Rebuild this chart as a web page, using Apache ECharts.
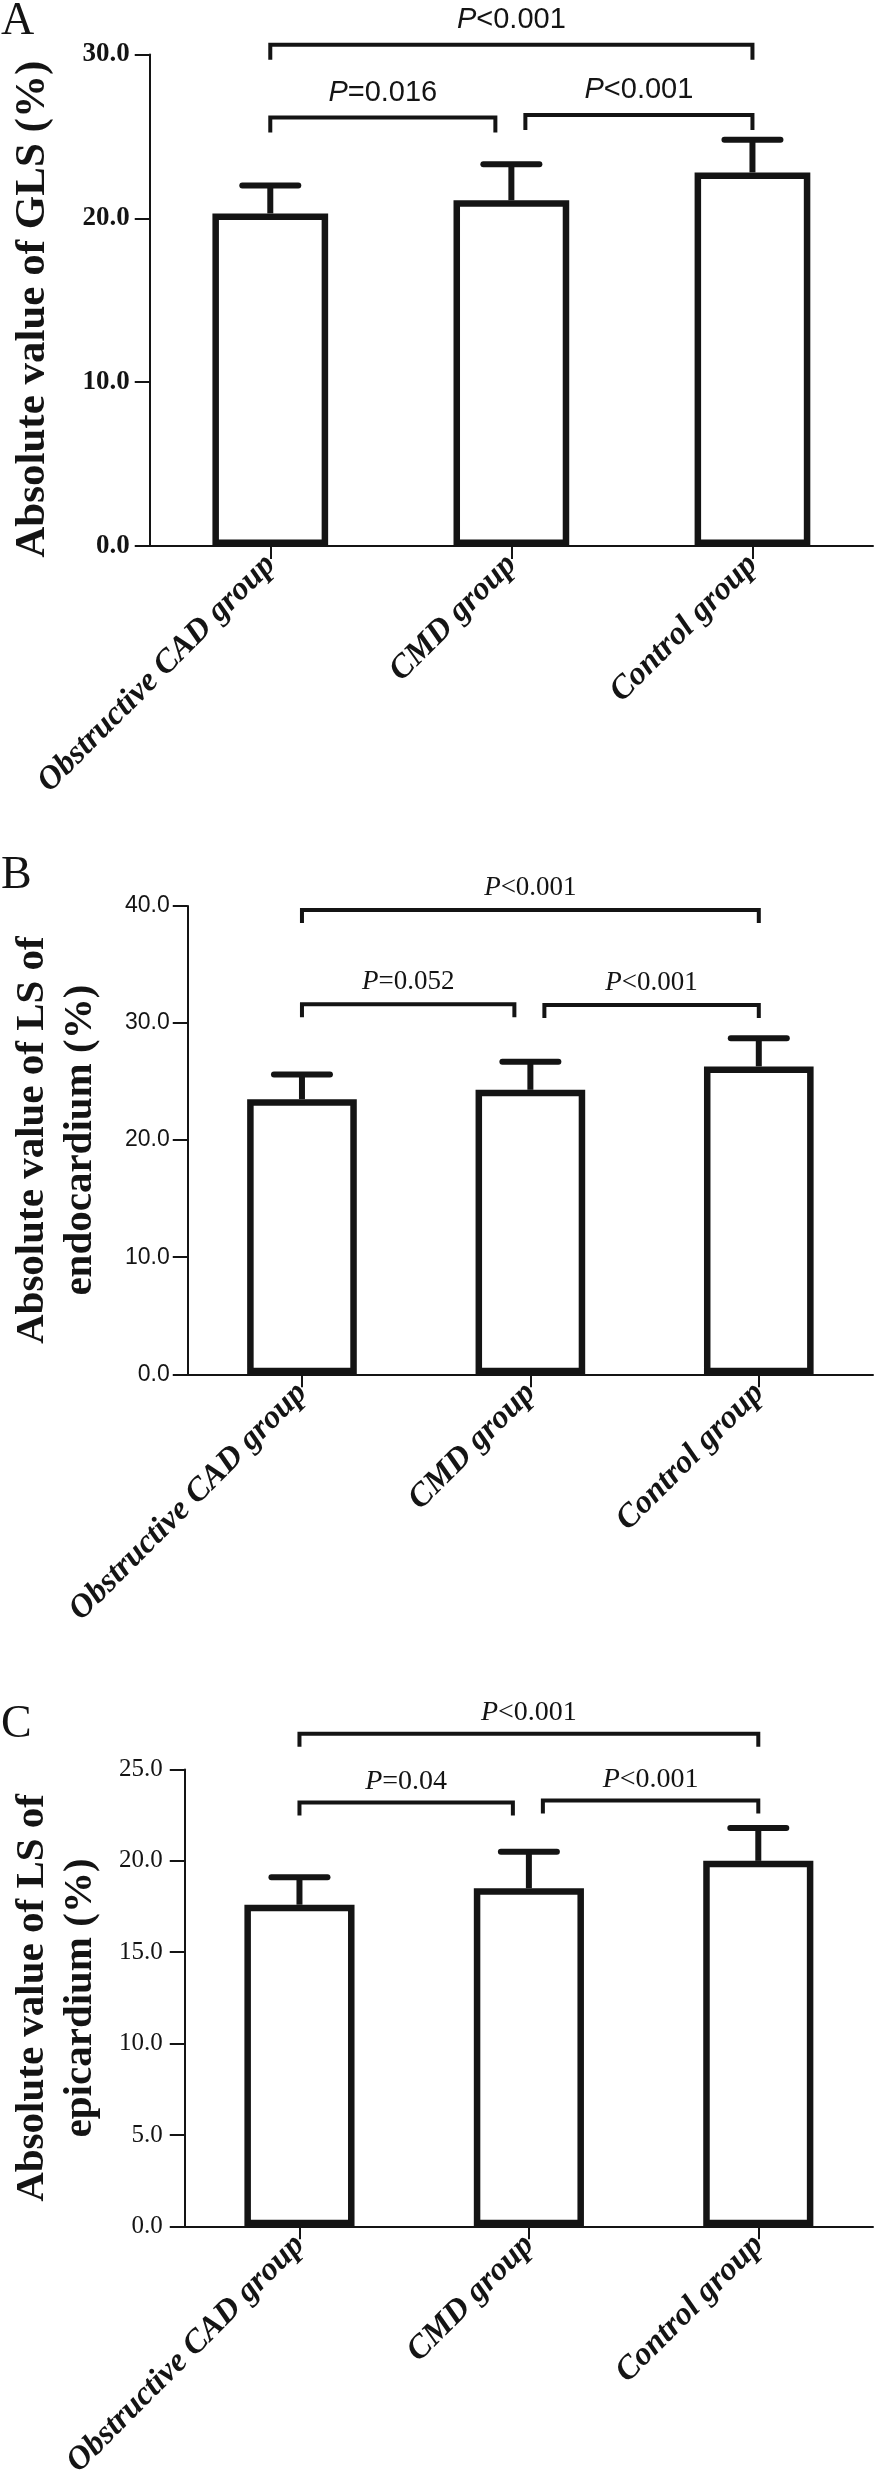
<!DOCTYPE html>
<html lang="en">
<head>
<meta charset="UTF-8">
<title>Absolute GLS / LS by group</title>
<script src="https://cdn.jsdelivr.net/npm/echarts@6/dist/echarts.min.js"></script>
<style>
  html, body { margin: 0; padding: 0; background: #fff; }
  #chart { width: 875px; height: 2481px; }
</style>
</head>
<body>
<div id="chart"></div>
<script>
// groups on the x axis (same in all three panels)
const groups = ['Obstructive CAD group', 'CMD group', 'Control group'];

// panel A - absolute value of GLS (%)
const glsMean = [20.3, 21.1, 22.8];
const glsSd = [1.7, 2.2, 2.0];
const glsTicks = [0, 10, 20, 30];

// panel B - absolute value of LS of endocardium (%)
const endoMean = [23.5, 24.3, 26.3];
const endoSd = [2.1, 2.4, 2.4];
const endoTicks = [0, 10, 20, 30, 40];

// panel C - absolute value of LS of epicardium (%)
const epiMean = [17.6, 18.5, 20.0];
const epiSd = [1.5, 2.0, 1.8];
const epiTicks = [0, 5, 10, 15, 20, 25];

// comparison brackets: [from group, to group, bracket height (axis units), p text]
const glsBrackets = [[0, 2, 30.6, '<0.001'], [0, 1, 26.15, '=0.016'], [1, 2, 26.3, '<0.001']];
const endoBrackets = [[0, 2, 39.65, '<0.001'], [0, 1, 31.6, '=0.052'], [1, 2, 31.55, '<0.001']];
const epiBrackets = [[0, 2, 26.95, '<0.001'], [0, 1, 23.2, '=0.04'], [1, 2, 23.3, '<0.001']];

const panelLetters = ['A', 'B', 'C'];
const axisTitles = [
    'Absolute value of GLS (%)',
    'Absolute value of LS of\nendocardium (%)',
    'Absolute value of LS of\nepicardium (%)'
];

const INK = '#141414';
const SERIF = '"Liberation Serif", "Times New Roman", serif';
const SANS = '"Liberation Sans", Arial, sans-serif';

const panels = [
    { mean: glsMean, sd: glsSd, ticks: glsTicks, brackets: glsBrackets,
      grid: { left: 134, right: 2, top: 54.5, height: 491.5 },
      tickFont: SERIF, tickWeight: 'bold', tickSize: 27, tickMargin: 20,
      pFont: SANS, pSize: 29, pGap: 25, leg: 15,
      nameSize: 43, nameGap: 91, namePad: [0, 18, 0, 0], letterTop: -1 },
    { mean: endoMean, sd: endoSd, ticks: endoTicks, brackets: endoBrackets,
      grid: { left: 168, right: 2, top: 906, height: 468.3 },
      tickFont: SANS, tickWeight: 'normal', tickSize: 23, tickMargin: 18,
      pFont: SERIF, pSize: 27, pGap: 22, leg: 13,
      nameSize: 41, nameGap: 83, namePad: 0, letterTop: 853 },
    { mean: epiMean, sd: epiSd, ticks: epiTicks, brackets: epiBrackets,
      grid: { left: 165.5, right: 2, top: 1769.5, height: 473.2 },
      tickFont: SERIF, tickWeight: 'normal', tickSize: 25, tickMargin: 22,
      pFont: SERIF, pSize: 28, pGap: 21, leg: 13,
      nameSize: 41, nameGap: 80, namePad: 0, letterTop: 1702 }
];

function errorBarItem(params, api) {
    const x = api.value(0);
    const lo = api.coord([x, api.value(1)]);
    const hi = api.coord([x, api.value(2)]);
    const half = 28;
    return {
        type: 'group',
        children: [
            { type: 'line', shape: { x1: lo[0], y1: lo[1], x2: hi[0], y2: hi[1] },
              style: { stroke: INK, lineWidth: 6 } },
            { type: 'line', shape: { x1: hi[0] - half, y1: hi[1], x2: hi[0] + half, y2: hi[1] },
              style: { stroke: INK, lineWidth: 6, lineCap: 'round' } }
        ]
    };
}

function bracketRenderer(p) {
    return function (params, api) {
        const a = api.value(0), b = api.value(1), h = api.value(2);
        const p1 = api.coord([a, h]);
        const p2 = api.coord([b, h]);
        let x1 = p1[0], x2 = p2[0];
        const y = p1[1];
        // adjacent brackets meet over the middle bar, leave a gap there
        if (b - a === 1) {
            if (a === 0) x2 -= 16; else x1 += 14;
        }
        const label = p.brackets[params.dataIndex][3];
        return {
            type: 'group',
            children: [
                { type: 'polyline',
                  shape: { points: [[x1, y + p.leg], [x1, y], [x2, y], [x2, y + p.leg]] },
                  style: { stroke: INK, lineWidth: 4, fill: null } },
                { type: 'text', x: (x1 + x2) / 2, y: y - p.pGap,
                  style: {
                      text: '{i|P}{n|' + label + '}',
                      align: 'center', verticalAlign: 'middle',
                      rich: {
                          i: { fontFamily: p.pFont, fontSize: p.pSize, fontStyle: 'italic', fill: INK },
                          n: { fontFamily: p.pFont, fontSize: p.pSize, fill: INK }
                      }
                  } }
            ]
        };
    };
}

const option = {
    animation: false,
    backgroundColor: '#fff',
    title: panels.map((p, i) => ({
        text: panelLetters[i], left: 1, top: p.letterTop, padding: 0,
        textStyle: { fontFamily: SERIF, fontSize: 46, fontWeight: 'normal', color: INK }
    })),
    grid: panels.map(p => p.grid),
    xAxis: panels.map((p, i) => ({
        type: 'category', gridIndex: i, data: groups,
        axisLine: { show: true, lineStyle: { color: INK, width: 2 } },
        axisTick: { show: true, alignWithLabel: true, length: 13, lineStyle: { color: INK, width: 2 } },
        axisLabel: {
            interval: 0, rotate: 45, margin: 14, color: INK,
            fontFamily: SERIF, fontSize: 33, fontWeight: 'bold', fontStyle: 'italic'
        },
        splitLine: { show: false }
    })),
    yAxis: panels.map((p, i) => ({
        type: 'value', gridIndex: i,
        min: p.ticks[0], max: p.ticks[p.ticks.length - 1], interval: p.ticks[1] - p.ticks[0],
        name: axisTitles[i], nameLocation: 'middle', nameGap: p.nameGap,
        nameTextStyle: { fontFamily: SERIF, fontSize: p.nameSize, fontWeight: 'bold',
                         color: INK, lineHeight: p.nameSize * 1.18, padding: p.namePad },
        axisLine: { show: true, lineStyle: { color: INK, width: 2 } },
        axisTick: { show: true, length: 15, lineStyle: { color: INK, width: 2 } },
        axisLabel: {
            margin: p.tickMargin, color: INK, fontFamily: p.tickFont,
            fontSize: p.tickSize, fontWeight: p.tickWeight,
            formatter: v => v.toFixed(1)
        },
        splitLine: { show: false }
    })),
    series: panels.flatMap((p, i) => [
        {
            type: 'bar', xAxisIndex: i, yAxisIndex: i, barWidth: '48%',
            data: p.mean,
            itemStyle: { color: '#fff', borderColor: INK, borderWidth: 6.5 },
            z: 2
        },
        {
            type: 'custom', xAxisIndex: i, yAxisIndex: i, z: 3,
            renderItem: errorBarItem,
            encode: { x: 0, y: [1, 2] },
            data: p.mean.map((m, k) => [k, m, +(m + p.sd[k]).toFixed(2)])
        },
        {
            type: 'custom', xAxisIndex: i, yAxisIndex: i, z: 4, clip: false,
            renderItem: bracketRenderer(p),
            encode: { x: [0, 1], y: 2 },
            data: p.brackets.map(b => [b[0], b[1], b[2]])
        }
    ])
};

const chart = echarts.init(document.getElementById('chart'));
chart.setOption(option);
</script>
</body>
</html>
